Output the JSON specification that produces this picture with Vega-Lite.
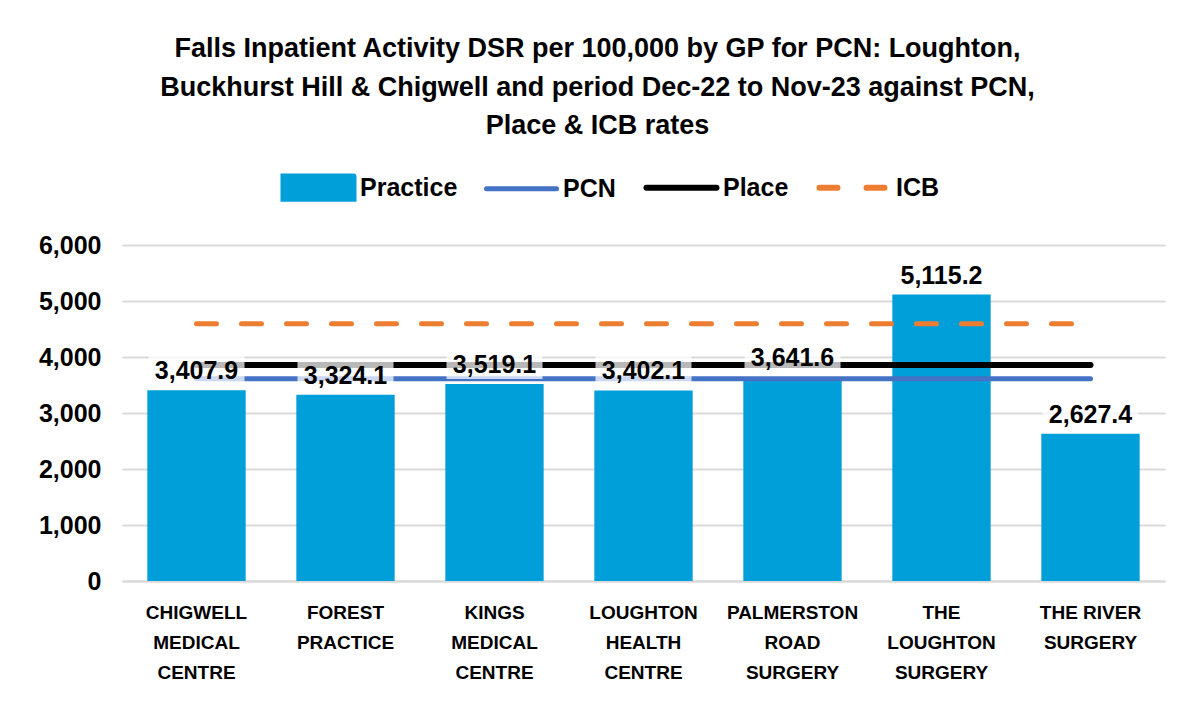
{
  "$schema": "https://vega.github.io/schema/vega-lite/v6.json",
  "width": 1043,
  "height": 336,
  "autosize": {"type": "none"},
  "padding": {"left": 122, "top": 245, "right": 28, "bottom": 122},
  "background": "white",
  "config": {
    "font": "Liberation Sans",
    "view": {"stroke": null}
  },
  "title": {
    "text": [
      "Falls Inpatient Activity DSR per 100,000 by GP for PCN: Loughton,",
      "Buckhurst Hill & Chigwell and period Dec-22 to Nov-23 against PCN,",
      "Place & ICB rates"
    ],
    "fontSize": 27,
    "fontWeight": "bold",
    "lineHeight": 38.5,
    "color": "#000000",
    "anchor": "middle",
    "dx": -46,
    "offset": 35
  },
  "data": {
    "values": [
      {"practice": "CHIGWELL MEDICAL CENTRE", "value": 3407.9, "pcn": 3612, "place": 3857, "icb": 4595},
      {"practice": "FOREST PRACTICE", "value": 3324.1, "pcn": 3612, "place": 3857, "icb": 4595},
      {"practice": "KINGS MEDICAL CENTRE", "value": 3519.1, "pcn": 3612, "place": 3857, "icb": 4595},
      {"practice": "LOUGHTON HEALTH CENTRE", "value": 3402.1, "pcn": 3612, "place": 3857, "icb": 4595},
      {"practice": "PALMERSTON ROAD SURGERY", "value": 3641.6, "pcn": 3612, "place": 3857, "icb": 4595},
      {"practice": "THE LOUGHTON SURGERY", "value": 5115.2, "pcn": 3612, "place": 3857, "icb": 4595},
      {"practice": "THE RIVER SURGERY", "value": 2627.4, "pcn": 3612, "place": 3857, "icb": 4595}
    ]
  },
  "encoding": {
    "x": {
      "field": "practice",
      "type": "nominal",
      "sort": null,
      "scale": {"paddingInner": 0.34, "paddingOuter": 0.17},
      "axis": {
        "title": null,
        "labelAngle": 0,
        "labelFontSize": 19,
        "labelFontWeight": "bold",
        "labelColor": "#000000",
        "labelLineHeight": 30,
        "labelPadding": 22,
        "labelLimit": 0,
        "labelBaseline": "top",
        "labelExpr": "datum.label == 'THE RIVER SURGERY' ? ['THE RIVER', 'SURGERY'] : split(datum.label, ' ')",
        "ticks": false,
        "domainColor": "#d9d9d9",
        "domainWidth": 2
      }
    }
  },
  "layer": [
    {
      "mark": {"type": "bar"},
      "encoding": {
        "y": {
          "field": "value",
          "type": "quantitative",
          "scale": {"domain": [0, 6000], "nice": false},
          "axis": {
            "title": null,
            "values": [0, 1000, 2000, 3000, 4000, 5000, 6000],
            "format": ",d",
            "labelFontSize": 25,
            "labelFontWeight": "bold",
            "labelColor": "#000000",
            "labelPadding": 21,
            "ticks": false,
            "domain": false,
            "gridColor": "#d9d9d9",
            "gridWidth": 2
          }
        },
        "color": {
          "datum": "Practice",
          "type": "nominal",
          "scale": {
            "domain": ["Practice", "PCN", "Place", "ICB"],
            "range": ["#009fda", "#4472c4", "#000000", "#ed7d31"]
          },
          "legend": {
            "title": null,
            "orient": "none",
            "legendX": 184,
            "legendY": -70,
            "direction": "horizontal",
            "labelFontSize": 25,
            "labelFontWeight": "bold",
            "labelColor": "#000000",
            "labelOffset": 29,
            "columnPadding": 18,
            "encode": {
              "symbols": {
                "update": {
                  "size": {"value": 4900},
                  "shape": {"signal": "datum.value === 'Practice' ? 'M-1,-0.32H1V0.32H-1Z' : 'M-1,-0.32M-1,0H1M1,0.32'"},
                  "fill": {"signal": "datum.value === 'Practice' ? '#009fda' : 'transparent'"},
                  "stroke": {"signal": "datum.value === 'Practice' ? 'transparent' : datum.value === 'PCN' ? '#4472c4' : datum.value === 'Place' ? '#000000' : '#ed7d31'"},
                  "strokeWidth": {"signal": "datum.value === 'PCN' ? 5 : 6"},
                  "strokeDash": {"signal": "datum.value === 'ICB' ? [18, 29] : [1, 0]"},
                  "strokeCap": {"value": "round"},
                  "opacity": {"value": 1},
                  "fillOpacity": {"value": 1},
                  "strokeOpacity": {"value": 1}
                }
              }
            }
          }
        }
      }
    },
    {
      "mark": {"type": "line", "strokeWidth": 5, "strokeCap": "round"},
      "encoding": {
        "y": {"field": "pcn", "type": "quantitative"},
        "color": {"datum": "PCN", "type": "nominal"}
      }
    },
    {
      "mark": {"type": "line", "strokeWidth": 6, "strokeCap": "round"},
      "encoding": {
        "y": {"field": "place", "type": "quantitative"},
        "color": {"datum": "Place", "type": "nominal"}
      }
    },
    {
      "mark": {"type": "line", "strokeWidth": 5, "strokeCap": "round", "strokeDash": [20, 25]},
      "encoding": {
        "y": {"field": "icb", "type": "quantitative"},
        "color": {"datum": "ICB", "type": "nominal"}
      }
    },
    {
      "mark": {"type": "rect", "width": 96, "height": 30, "yOffset": -20, "fill": "#ffffff", "opacity": 0.72},
      "encoding": {
        "y": {"field": "value", "type": "quantitative"}
      }
    },
    {
      "mark": {"type": "text", "baseline": "bottom", "dy": -6, "fontSize": 25, "fontWeight": "bold", "color": "#000000"},
      "encoding": {
        "y": {"field": "value", "type": "quantitative"},
        "text": {"field": "value", "type": "quantitative", "format": ",.1f"}
      }
    }
  ]
}
